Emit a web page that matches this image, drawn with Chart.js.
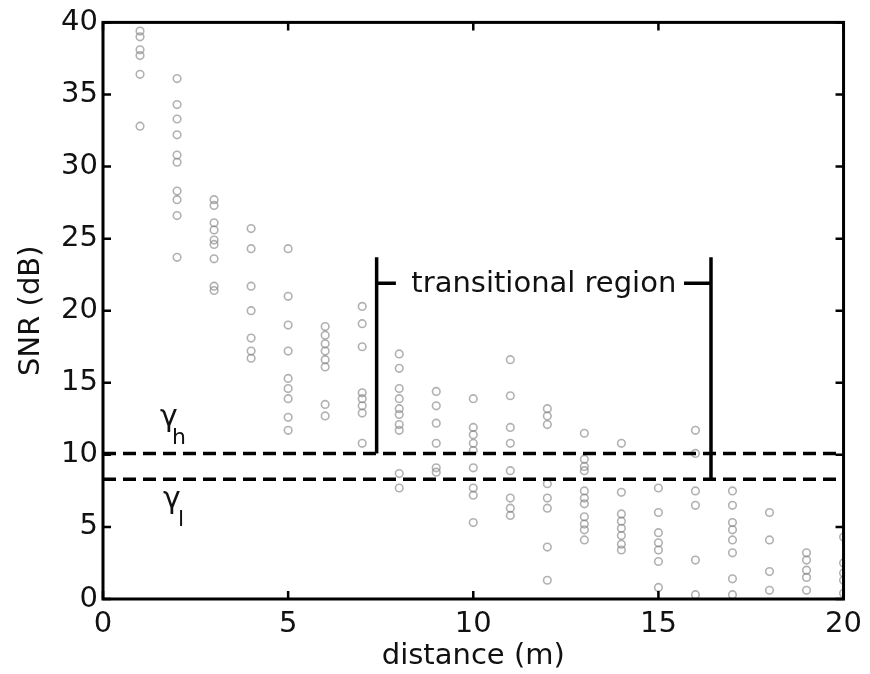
<!DOCTYPE html>
<html>
<head>
<meta charset="utf-8">
<script src="https://cdn.jsdelivr.net/npm/chart.js@4.4.1/dist/chart.umd.min.js"></script>
<style>
  html, body { margin: 0; padding: 0; background: #fff; }
  #wrap { width: 870px; height: 674px; }
</style>
</head>
<body>
<div id="wrap"><canvas id="snrChart" width="870" height="674"></canvas></div>
<script>
// distance (m) of each measurement column
const distances = [1, 2, 3, 4, 5, 6, 7, 8, 9, 10, 11, 12, 13, 14, 15, 16, 17, 18, 19, 20];

// measured SNR (dB) samples, one list per distance
const snrSamples = [
    [39.4, 39.0, 38.1, 37.7, 36.4, 32.8],
    [36.1, 34.3, 33.3, 32.2, 30.8, 30.3, 28.3, 27.7, 26.6, 23.7],
    [27.7, 27.3, 26.1, 25.6, 24.9, 24.6, 23.6, 21.7, 21.4],
    [25.7, 24.3, 21.7, 20.0, 18.1, 17.2, 16.7],
    [24.3, 21.0, 19.0, 17.2, 15.3, 14.6, 13.9, 12.6, 11.7],
    [18.9, 18.3, 17.7, 17.2, 16.6, 16.1, 13.5, 12.7],
    [20.3, 19.1, 17.5, 14.3, 13.9, 13.4, 12.9, 10.8],
    [17.0, 16.0, 14.6, 13.9, 13.2, 12.8, 12.1, 11.7, 8.7, 7.7],
    [14.4, 13.4, 12.2, 10.8, 9.1, 8.8],
    [13.9, 11.9, 11.4, 10.8, 10.3, 9.1, 7.7, 7.2, 5.3],
    [16.6, 14.1, 11.9, 10.8, 8.9, 7.0, 6.3, 5.8],
    [13.2, 12.7, 12.1, 8.0, 7.0, 6.3, 3.6, 1.3],
    [11.5, 9.7, 9.2, 8.9, 7.5, 7.0, 6.6, 5.7, 5.2, 4.8, 4.1],
    [10.8, 7.4, 5.9, 5.4, 4.9, 4.4, 3.8, 3.4],
    [7.7, 6.0, 4.6, 3.9, 3.4, 2.6, 0.8],
    [11.7, 10.1, 7.5, 6.5, 2.7, 0.3],
    [7.5, 6.5, 5.3, 4.8, 4.1, 3.2, 1.4, 0.3],
    [6.0, 4.1, 1.9, 0.6],
    [3.2, 2.7, 2.0, 1.5, 0.6],
    [4.3, 2.5, 1.8, 1.3, 0.4]
];

// thresholds (dB)
const gammaHigh = 10.1;
const gammaLow = 8.3;

// transitional region bracket: x limits, top, and height of the label ticks
const regionStart = 7.39;
const regionEnd = 16.42;
const regionTop = 23.7;
const regionTickY = 21.9;
const regionTickLen = 0.52;

const xTicks = [0, 5, 10, 15, 20];
const yTicks = [0, 5, 10, 15, 20, 25, 30, 35, 40];

const FONT = '"DejaVu Sans", sans-serif';

const points = [];
distances.forEach((d, i) => {
    snrSamples[i].forEach(v => points.push({ x: d, y: v }));
});

function segment(x1, y1, x2, y2, dash) {
    return {
        type: 'line',
        data: [{ x: x1, y: y1 }, { x: x2, y: y2 }],
        borderColor: '#000',
        borderWidth: 3.5,
        borderDash: dash || [],
        pointRadius: 0,
        fill: false,
        order: 0
    };
}

// box, inward ticks and in-plot labels
const boxAndNotes = {
    id: 'boxAndNotes',
    afterDatasetsDraw(chart) {
        const { ctx, chartArea: a, scales: { x, y } } = chart;
        ctx.save();
        ctx.strokeStyle = '#000';
        ctx.lineWidth = 3;
        ctx.strokeRect(a.left, a.top, a.right - a.left, a.bottom - a.top);

        ctx.lineWidth = 2.5;
        ctx.beginPath();
        xTicks.forEach(v => {
            const px = x.getPixelForValue(v);
            ctx.moveTo(px, a.bottom); ctx.lineTo(px, a.bottom - 8);
            ctx.moveTo(px, a.top); ctx.lineTo(px, a.top + 8);
        });
        yTicks.forEach(v => {
            const py = y.getPixelForValue(v);
            ctx.moveTo(a.left, py); ctx.lineTo(a.left + 8, py);
            ctx.moveTo(a.right, py); ctx.lineTo(a.right - 8, py);
        });
        ctx.stroke();

        ctx.fillStyle = '#111';
        ctx.textBaseline = 'alphabetic';
        ctx.textAlign = 'center';
        ctx.font = '29px ' + FONT;
        ctx.fillText('transitional region', x.getPixelForValue((regionStart + regionEnd) / 2), y.getPixelForValue(21.3));

        ctx.textAlign = 'left';
        const gx = x.getPixelForValue(1.54), gy = y.getPixelForValue(12.0);
        ctx.font = '30px ' + FONT;
        ctx.fillText('γ', gx, gy);
        ctx.font = '22px ' + FONT;
        ctx.fillText('h', gx + 12, gy + 18);

        const lx = x.getPixelForValue(1.62), ly = y.getPixelForValue(6.3);
        ctx.font = '30px ' + FONT;
        ctx.fillText('γ', lx, ly);
        ctx.font = '22px ' + FONT;
        ctx.fillText('l', lx + 15, ly + 18);
        ctx.restore();
    }
};

new Chart(document.getElementById('snrChart'), {
    type: 'scatter',
    data: {
        datasets: [
            segment(0, gammaHigh, 20, gammaHigh, [13, 7]),
            segment(0, gammaLow, 20, gammaLow, [13, 7]),
            segment(regionStart, gammaHigh, regionStart, regionTop),
            segment(regionStart, regionTickY, regionStart + regionTickLen, regionTickY),
            segment(regionEnd, gammaLow, regionEnd, regionTop),
            segment(regionEnd - regionTickLen * 1.4, regionTickY, regionEnd, regionTickY),
            {
                label: 'SNR',
                data: points,
                pointStyle: 'circle',
                pointRadius: 3.8,
                borderWidth: 1.6,
                borderColor: 'rgba(125,125,125,0.6)',
                backgroundColor: 'rgba(0,0,0,0)',
                order: 1
            }
        ]
    },
    options: {
        responsive: false,
        animation: false,
        devicePixelRatio: 1,
        layout: { padding: { top: 19, right: 25, left: 0, bottom: 0 } },
        plugins: { legend: { display: false }, tooltip: { enabled: false } },
        scales: {
            x: {
                type: 'linear',
                min: 0, max: 20,
                afterFit(scale) { scale.height = 75; },
                afterBuildTicks(scale) { scale.ticks = xTicks.map(v => ({ value: v })); },
                grid: { display: false, drawTicks: false },
                border: { display: false },
                ticks: { color: '#111', padding: 8, maxRotation: 0, font: { family: FONT, size: 29 } },
                title: { display: true, text: 'distance (m)', color: '#111', padding: { top: 0, bottom: 0 }, font: { family: FONT, size: 29 } }
            },
            y: {
                type: 'linear',
                min: 0, max: 40,
                afterFit(scale) { scale.width = 103; },
                afterBuildTicks(scale) { scale.ticks = yTicks.map(v => ({ value: v })); },
                grid: { display: false, drawTicks: false },
                border: { display: false },
                ticks: { color: '#111', padding: 5, font: { family: FONT, size: 29 } },
                title: { display: true, text: 'SNR (dB)', color: '#111', padding: { top: 14, bottom: 0 }, font: { family: FONT, size: 29 } }
            }
        }
    },
    plugins: [boxAndNotes]
});
</script>
</body>
</html>
